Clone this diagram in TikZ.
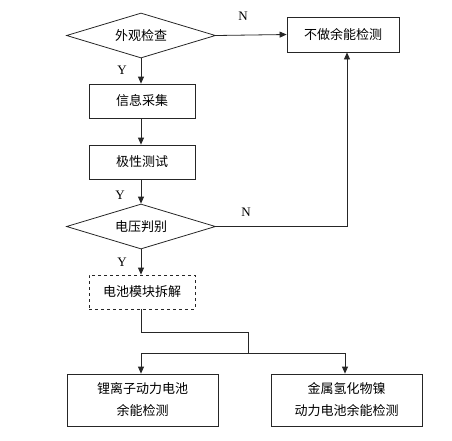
\documentclass[tikz,border=0pt]{standalone}
\usepackage{fontspec}
\setmainfont{Liberation Serif}
\newfontfamily\cjk{Noto Sans CJK SC}
\usetikzlibrary{shapes.geometric,arrows.meta}
\begin{document}
\begin{tikzpicture}[x=1pt,y=-1pt,
  every node/.style={font=\cjk\fontsize{13}{22}\selectfont},
  proc/.style={draw=black!85,line width=0.8pt,minimum width=106pt,minimum height=34pt,inner sep=0pt,align=center},
  dproc/.style={proc,dashed},
  wide/.style={proc,minimum width=151pt,minimum height=52pt},
  decide/.style={draw=black!85,line width=0.8pt,diamond,aspect=3.3,minimum width=149pt,minimum height=45pt,inner sep=0pt},
  lab/.style={font=\fontsize{13}{15}\selectfont},
  conn/.style={draw=black!85,line width=0.8pt},
  arr/.style={conn,-{Triangle[length=7pt,width=6pt]}}]
\useasboundingbox (0,0) rectangle (452,440);
\node[decide] (d1) at (141,35.5) {外观检查};
\node[proc,minimum width=112pt,minimum height=35pt] (skip) at (343,34.5) {不做余能检测};
\node[proc] (info) at (142,101) {信息采集};
\node[proc] (pol) at (142,162) {极性测试};
\node[decide] (d2) at (141,226.5) {电压判别};
\node[dproc] (dis) at (142,292) {电池模块拆解};
\node[wide] (li) at (142.5,400) {锂离子动力电池\\余能检测};
\node[wide] (ni) at (346.5,400) {金属氢化物镍\\动力电池余能检测};
\coordinate (c1) at (141,332);
\coordinate (c2) at (248,332);
\coordinate (c3) at (248,353);
\coordinate (cl) at (141,353);
\coordinate (cr) at (345,353);
\coordinate (up) at (347,226.5);
\draw[arr] (d1.east) -- (skip.west);
\draw[arr] (d1.south) -- (info.north -| d1.south);
\draw[arr] (info.south -| d1.south) -- (pol.north -| d1.south);
\draw[arr] (pol.south -| d1.south) -- (d2.north);
\draw[arr] (d2.south) -- (dis.north -| d2.south);
\draw[arr] (d2.east) -- (up) -- (skip.south -| up);
\draw[conn] (dis.south -| c1) -- (c1) -- (c2) -- (c3);
\draw[conn] (cl) -- (cr);
\draw[arr] (cl) -- (li.north -| cl);
\draw[arr] (cr) -- (ni.north -| cr);
\node[lab] (n1) at (243,16) {N};
\node[lab] (y1) at (122,70) {Y};
\node[lab] (y2) at (120,195) {Y};
\node[lab] (n2) at (246,212) {N};
\node[lab] (y3) at (122,262) {Y};
\end{tikzpicture}
\end{document}
